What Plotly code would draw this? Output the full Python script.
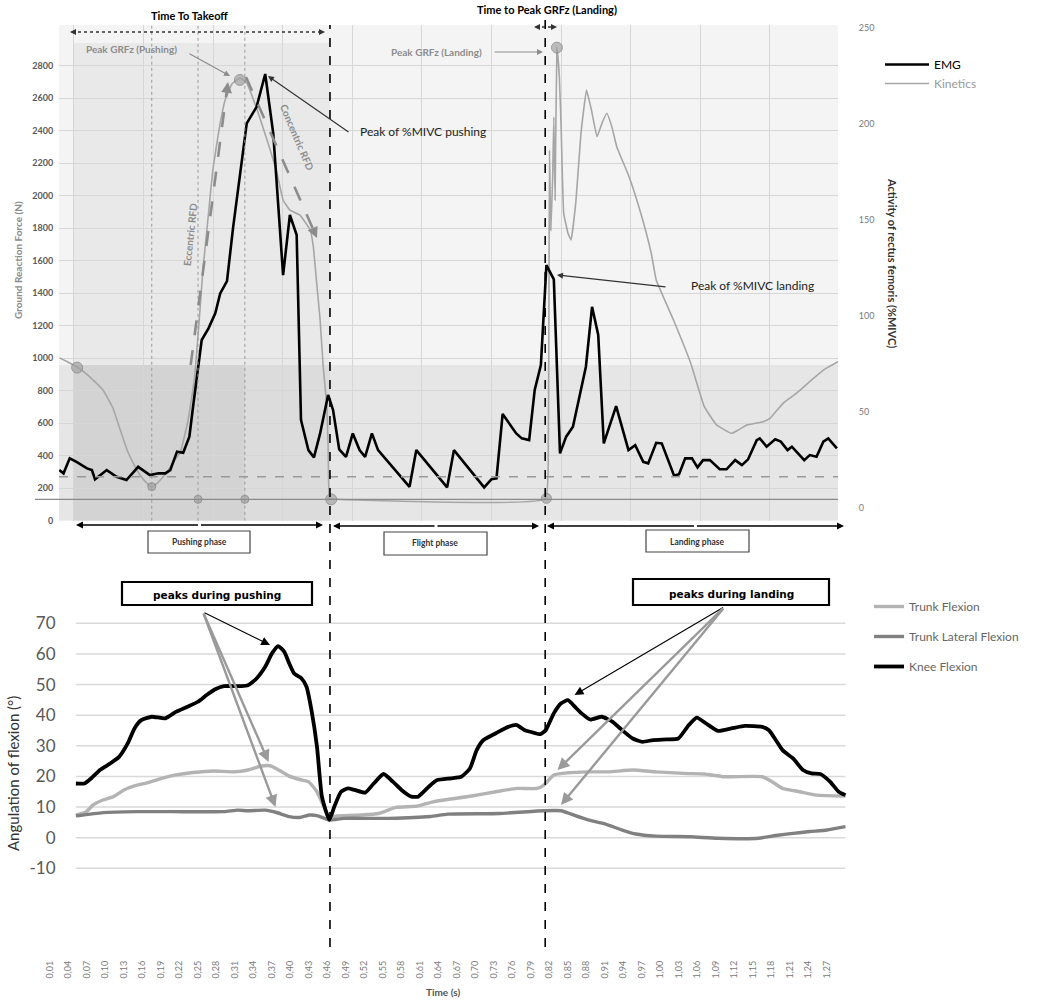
import plotly.graph_objects as go

W, H = 1052, 1001


def X(p):
    # pixel column -> paper x
    return p / W


def Y(p):
    # pixel row -> paper y
    return 1 - p / H


# --- top chart: vertical ground reaction force (N) ---
kin_t = [0.026, 0.054, 0.075, 0.096, 0.112, 0.124, 0.135, 0.145, 0.156, 0.167,
         0.175, 0.184, 0.200, 0.210, 0.221, 0.234, 0.244, 0.252, 0.258, 0.266,
         0.274, 0.284, 0.294, 0.305, 0.318, 0.329, 0.346, 0.362, 0.378, 0.388,
         0.399, 0.415, 0.432, 0.437, 0.442, 0.448, 0.453, 0.459, 0.461, 0.463,
         0.466, 0.813, 0.818, 0.820, 0.822, 0.825, 0.827, 0.829, 0.832, 0.836,
         0.839, 0.843, 0.850, 0.855, 0.863, 0.871, 0.880, 0.888, 0.897, 0.905,
         0.913, 0.921, 0.929, 0.949, 0.968, 0.985, 0.993, 1.021, 1.049, 1.071,
         1.091, 1.115, 1.126, 1.140, 1.166, 1.178, 1.199, 1.221, 1.245, 1.267,
         1.288]
kin_grf = [1001, 946, 884, 804, 694, 558, 435, 355, 282, 232,
           208, 232, 300, 362, 417, 620, 866, 1235, 1542, 1850,
           2157, 2403, 2588, 2686, 2723, 2692, 2526, 2342, 2139, 1973,
           1911, 1881, 1788, 1686, 1481, 1235, 948, 702, 456, 138,
           134, 134, 497, 2280, 1786, 2097, 2483, 1973, 2910, 2731,
           2397, 1891, 1768, 1727, 1973, 2383, 2649, 2526, 2362, 2445,
           2506, 2424, 2301, 2116, 1891, 1645, 1481, 1235, 969, 702,
           589, 538, 558, 589, 609, 632, 724, 786, 866, 934,
           978]

# --- top chart: rectus femoris activity (%MIVC) ---
emg_t = [0.025, 0.032, 0.042, 0.053, 0.070, 0.078, 0.083, 0.102, 0.118, 0.134,
         0.153, 0.172, 0.186, 0.197, 0.205, 0.216, 0.226, 0.236, 0.242, 0.248,
         0.256, 0.267, 0.278, 0.286, 0.297, 0.307, 0.318, 0.329, 0.345, 0.359,
         0.372, 0.380, 0.388, 0.399, 0.410, 0.417, 0.429, 0.438, 0.448, 0.461,
         0.469, 0.479, 0.490, 0.501, 0.512, 0.521, 0.532, 0.542, 0.593, 0.604,
         0.654, 0.665, 0.714, 0.726, 0.734, 0.744, 0.766, 0.775, 0.787, 0.796,
         0.806, 0.815, 0.827, 0.837, 0.847, 0.858, 0.869, 0.879, 0.889, 0.899,
         0.908, 0.928, 0.948, 0.959, 0.972, 0.980, 0.993, 1.002, 1.022, 1.030,
         1.040, 1.051, 1.060, 1.069, 1.080, 1.096, 1.107, 1.121, 1.132, 1.142,
         1.156, 1.161, 1.172, 1.186, 1.195, 1.206, 1.213, 1.221, 1.233, 1.242,
         1.253, 1.264, 1.272, 1.286]
emg_val = [19.6, 17.9, 25.7, 23.9, 20.5, 19.6, 14.8, 19.6, 16.1, 14.4,
           21.3, 17.0, 17.9, 17.9, 19.6, 29.2, 28.6, 37.0, 52.6, 68.2,
           87.3, 93.4, 101.2, 111.6, 118.0, 146.1, 174.1, 200.1, 208.7, 225.8,
           194.9, 160.2, 121.1, 152.4, 142.0, 45.7, 30.0, 26.2, 38.7, 58.7,
           50.9, 30.4, 26.5, 38.7, 30.0, 26.5, 38.7, 30.0, 10.9, 30.0,
           10.6, 30.0, 10.6, 14.9, 15.3, 48.8, 38.7, 36.1, 35.2, 61.3,
           74.3, 126.3, 118.9, 28.3, 37.0, 42.2, 57.8, 73.4, 104.6, 89.9,
           33.5, 52.9, 30.0, 32.6, 23.9, 23.1, 33.8, 33.5, 16.7, 17.5,
           25.7, 25.7, 21.0, 24.8, 24.8, 20.0, 20.0, 24.8, 22.2, 25.2,
           35.2, 36.1, 31.8, 35.6, 34.4, 30.0, 31.8, 29.2, 24.8, 27.4,
           26.5, 34.4, 36.1, 30.9]

# event points marked on the force curve
event_t = [0.054, 0.175, 0.250, 0.326, 0.466, 0.815, 0.318, 0.832]
event_grf = [942, 210, 132, 132, 132, 138, 2711, 2910]
event_size = [11, 8, 8, 8, 11, 10, 11, 11]

takeoff_t = 0.464
landing_t = 0.813
phase_marks_t = [0.175, 0.250, 0.326]
threshold_grf = 271
baseline_grf = 132
grf_ticks = [0, 200, 400, 600, 800, 1000, 1200, 1400, 1600, 1800, 2000, 2200, 2400, 2600, 2800]
emg_ticks = [0, 50, 100, 150, 200, 250]

# --- bottom chart: joint angles (deg) ---
knee_t = [0.052, 0.066, 0.077, 0.091, 0.108, 0.122, 0.136, 0.147, 0.158, 0.175,
          0.197, 0.214, 0.233, 0.250, 0.264, 0.278, 0.292, 0.320, 0.331, 0.345,
          0.359, 0.370, 0.380, 0.390, 0.398, 0.406, 0.418, 0.426, 0.434, 0.443,
          0.451, 0.463, 0.471, 0.482, 0.493, 0.504, 0.521, 0.535, 0.551, 0.566,
          0.580, 0.596, 0.607, 0.624, 0.638, 0.660, 0.677, 0.691, 0.702, 0.713,
          0.733, 0.753, 0.767, 0.780, 0.789, 0.805, 0.814, 0.827, 0.839, 0.850,
          0.861, 0.872, 0.886, 0.905, 0.922, 0.938, 0.955, 0.971, 0.988, 1.010,
          1.029, 1.046, 1.059, 1.074, 1.093, 1.115, 1.137, 1.165, 1.176, 1.187,
          1.198, 1.215, 1.231, 1.245, 1.259, 1.275, 1.289, 1.300]
knee_val = [17.7, 17.7, 19.4, 22.1, 24.3, 26.4, 30.8, 35.7, 38.4, 39.5,
            39.0, 41.1, 42.8, 44.4, 46.6, 48.5, 49.5, 49.5, 49.8, 52.0,
            55.8, 60.2, 62.6, 60.7, 56.9, 53.6, 52.0, 49.3, 41.7, 29.7,
            13.4, 5.8, 10.1, 15.0, 16.1, 15.6, 14.7, 17.7, 20.8, 18.3,
            15.6, 13.4, 13.4, 16.6, 18.8, 19.4, 19.9, 22.6, 28.6, 31.9,
            34.1, 36.2, 36.8, 35.1, 34.6, 33.8, 35.1, 40.6, 43.9, 44.9,
            42.8, 40.6, 38.6, 39.5, 37.9, 35.1, 32.4, 31.3, 31.9, 32.1,
            32.4, 36.8, 39.2, 37.3, 34.9, 35.7, 36.5, 36.2, 35.1, 31.9,
            28.6, 25.9, 22.1, 21.0, 20.8, 18.3, 15.0, 13.9]

trunk_t = [0.052, 0.069, 0.080, 0.096, 0.113, 0.130, 0.147, 0.169, 0.191, 0.214,
           0.242, 0.275, 0.309, 0.331, 0.353, 0.367, 0.381, 0.398, 0.415, 0.429,
           0.443, 0.463, 0.476, 0.515, 0.543, 0.571, 0.605, 0.633, 0.655, 0.694,
           0.733, 0.767, 0.800, 0.811, 0.827, 0.850, 0.883, 0.916, 0.955, 0.993,
           1.038, 1.071, 1.104, 1.165, 1.181, 1.198, 1.226, 1.253, 1.300]
trunk_val = [7.4, 8.5, 10.7, 12.3, 13.4, 15.6, 16.9, 18.0, 19.4, 20.5,
             21.3, 21.8, 21.5, 22.1, 23.4, 23.5, 22.1, 20.1, 19.0, 18.3,
             15.0, 6.9, 7.1, 7.4, 7.9, 9.9, 10.3, 11.8, 12.5, 13.6,
             15.0, 16.1, 16.1, 17.2, 20.5, 21.2, 21.5, 21.5, 22.1, 21.5,
             21.0, 20.8, 19.9, 19.9, 18.3, 16.1, 15.0, 13.9, 13.6]

lateral_t = [0.052, 0.096, 0.152, 0.208, 0.292, 0.314, 0.331, 0.359, 0.376, 0.398,
             0.415, 0.431, 0.443, 0.463, 0.487, 0.560, 0.627, 0.655, 0.739, 0.811,
             0.839, 0.855, 0.883, 0.910, 0.938, 0.960, 0.993, 1.049, 1.093, 1.159,
             1.187, 1.215, 1.242, 1.270, 1.300]
lateral_val = [7.1, 8.2, 8.5, 8.5, 8.5, 9.0, 8.8, 9.0, 8.3, 6.9,
               6.6, 7.4, 7.2, 5.8, 6.3, 6.3, 6.9, 7.7, 7.9, 8.8,
               8.8, 7.7, 5.8, 4.5, 2.5, 1.2, 0.5, 0.3, -0.2, -0.2,
               0.7, 1.4, 2.0, 2.5, 3.6]

angle_ticks = [-10, 0, 10, 20, 30, 40, 50, 60, 70]
angle_labels = ["-10", "0", "10", "20", "30", "40", "50", "60", "70"]
time_labels = ["0,01", "0,04", "0,07", "0,10", "0,13", "0,16", "0,19", "0,22", "0,25",
               "0,28", "0,31", "0,34", "0,37", "0,40", "0,43", "0,46", "0,49", "0,52",
               "0,55", "0,58", "0,61", "0,64", "0,67", "0,70", "0,73", "0,76", "0,79",
               "0,82", "0,85", "0,88", "0,91", "0,94", "0,97", "1,00", "1,03", "1,06",
               "1,09", "1,12", "1,15", "1,18", "1,21", "1,24", "1,27"]
time_vals = [float(s.replace(",", ".")) for s in time_labels]

GRID = "#d6d6d6"
GRAYTXT = "#8c8c8c"
FONT = "Lato"

fig = go.Figure()

# top chart traces
fig.add_trace(go.Scatter(
    x=kin_t, y=kin_grf, mode="lines", name="<span style='color:#9a9a9a'>Kinetics</span>",
    line=dict(color="#a6a6a6", width=1.6, shape="spline", smoothing=0.3),
    legend="legend", legendrank=2, xaxis="x", yaxis="y"))
fig.add_trace(go.Scatter(
    x=event_t, y=event_grf, mode="markers", showlegend=False, cliponaxis=False,
    marker=dict(size=event_size, color="#a3a3a3", line=dict(color="#7a7a7a", width=1)),
    xaxis="x", yaxis="y"))
fig.add_trace(go.Scatter(
    x=emg_t, y=emg_val, mode="lines", name="EMG",
    line=dict(color="black", width=2.6),
    legend="legend", legendrank=1, xaxis="x", yaxis="y2"))

# bottom chart traces
for name, tt, vv, col in [("Trunk Flexion", trunk_t, trunk_val, "#b3b3b3"),
                          ("Trunk Lateral Flexion", lateral_t, lateral_val, "#808080"),
                          ("Knee Flexion", knee_t, knee_val, "#000000")]:
    fig.add_trace(go.Scatter(
        x=tt, y=vv, mode="lines", name=name, legend="legend2", legendgroup=name,
        line=dict(color=col, width=3.8 if col == "#000000" else 3.4, shape="spline", smoothing=0.5),
        xaxis="x2", yaxis="y3"))

shapes = []
# shaded backgrounds of the force plot
shapes.append(dict(type="rect", xref="x domain", yref="y domain", x0=0, x1=1, y0=0, y1=1,
                   fillcolor="#f4f4f4", line_width=0, layer="below"))
shapes.append(dict(type="rect", xref="x", yref="y", x0=0.0489, x1=takeoff_t, y0=958, y1=2938,
                   fillcolor="#e9e9e9", line_width=0, layer="below"))
shapes.append(dict(type="rect", xref="x domain", yref="y", x0=0, x1=1, y0=0, y1=958,
                   fillcolor="#e6e6e6", line_width=0, layer="below"))
shapes.append(dict(type="rect", xref="x", yref="y", x0=phase_marks_t[2], x1=takeoff_t, y0=0, y1=958,
                   fillcolor="#dcdcdc", line_width=0, layer="below"))
shapes.append(dict(type="rect", xref="x", yref="y", x0=0.0489, x1=phase_marks_t[2], y0=0, y1=958,
                   fillcolor="#d3d3d3", line_width=0, layer="below"))
for t in phase_marks_t:
    shapes.append(dict(type="line", xref="x", yref="y", x0=t, x1=t, y0=0, y1=3049,
                       line=dict(color="#9a9a9a", width=1, dash="dot")))
shapes.append(dict(type="line", xref="x domain", yref="y", x0=0, x1=1,
                   y0=threshold_grf, y1=threshold_grf,
                   line=dict(color="#9a9a9a", width=1.5, dash="dash")))
shapes.append(dict(type="line", xref="paper", yref="y", x0=X(35), x1=X(838),
                   y0=baseline_grf, y1=baseline_grf, line=dict(color="#8a8a8a", width=1.2)))
# takeoff / landing boundaries running through both charts
shapes.append(dict(type="line", xref="x", yref="paper", x0=takeoff_t, x1=takeoff_t,
                   y0=Y(947), y1=Y(25), line=dict(color="black", width=1.6, dash="dash")))
shapes.append(dict(type="line", xref="x", yref="paper", x0=landing_t, x1=landing_t,
                   y0=Y(947), y1=Y(18), line=dict(color="black", width=1.6, dash="dash")))
# time-to-takeoff and time-to-peak dotted spans
shapes.append(dict(type="line", xref="paper", yref="paper", x0=X(72), x1=X(323),
                   y0=Y(32), y1=Y(32), line=dict(color="#333", width=1.6, dash="dot")))
shapes.append(dict(type="line", xref="paper", yref="paper", x0=X(536), x1=X(555),
                   y0=Y(27), y1=Y(27), line=dict(color="#333", width=1.4, dash="dot")))
# RFD dashed arrows
shapes.append(dict(type="line", xref="paper", yref="paper", x0=X(190.7), x1=X(226.9),
                   y0=Y(365), y1=Y(90), line=dict(color=GRAYTXT, width=2.6, dash="longdash")))
shapes.append(dict(type="line", xref="paper", yref="paper", x0=X(246), x1=X(313.5),
                   y0=Y(77), y1=Y(230), line=dict(color=GRAYTXT, width=2.6, dash="longdash")))
# phase boxes
for x0, x1, y0, y1 in [(148, 250, 531, 553), (384, 487, 532, 555), (646, 749, 530, 552)]:
    shapes.append(dict(type="rect", xref="paper", yref="paper", x0=X(x0), x1=X(x1),
                       y0=Y(y1), y1=Y(y0), line=dict(color="#444", width=1.2)))
# "peaks" boxes
for x0, x1, y0, y1 in [(122, 312, 582, 605), (633, 829, 579, 605)]:
    shapes.append(dict(type="rect", xref="paper", yref="paper", x0=X(x0), x1=X(x1),
                       y0=Y(y1), y1=Y(y0), line=dict(color="black", width=2.2)))
# horizontal grid of the angle chart
for v in angle_ticks:
    shapes.append(dict(type="line", xref="x2", yref="y3", x0=0.052, x1=1.300, y0=v, y1=v,
                       line=dict(color="#d9d9d9", width=1.5), layer="below"))

ann = []


def text(x, y, s, size, color, bold=False, angle=0, family=FONT):
    ann.append(dict(x=X(x), y=Y(y), xref="paper", yref="paper", text=s, showarrow=False,
                    textangle=angle, xanchor="center", yanchor="middle",
                    font=dict(size=size, color=color, family=family,
                              weight="bold" if bold else "normal")))


def arrow(x, y, ax, ay, color, width=1.2, size=1.0, head=2):
    ann.append(dict(x=X(x), y=Y(y), xref="paper", yref="paper", ax=ax, ay=ay, text="",
                    showarrow=True, arrowhead=head, arrowsize=size, arrowwidth=width,
                    arrowcolor=color, standoff=0, startstandoff=0))


text(189, 15, "Time To Takeoff", 11, "black", bold=True)
text(547, 9, "Time to Peak GRFz (Landing)", 11, "black", bold=True)
text(131, 49, "Peak GRFz (Pushing)", 10, GRAYTXT, bold=True)
text(436, 52, "Peak GRFz (Landing)", 10, GRAYTXT, bold=True)
text(423, 132, "Peak of %MIVC pushing", 12, "#222")
text(752, 285, "Peak of %MIVC landing", 12, "#222")
text(190, 235, "Eccentric RFD", 10, GRAYTXT, bold=True, angle=-84)
text(297, 137, "Concentric RFD", 10, GRAYTXT, bold=True, angle=67)
text(18, 260, "Ground Reaction Force (N)", 10, GRAYTXT, bold=True, angle=-90)
text(893, 263, "Activity of rectus femoris (%MIVC)", 11, "#333", bold=True, angle=90)
text(199, 542, "Pushing phase", 8.5, "#333", bold=True)
text(435.5, 543, "Flight phase", 8.5, "#333", bold=True)
text(697.5, 541.5, "Landing phase", 8.5, "#333", bold=True)
text(217, 595, "peaks during pushing", 10.5, "black", bold=True, family="DejaVu Sans")
text(731, 594, "peaks during landing", 10.5, "black", bold=True, family="DejaVu Sans")
text(13, 774, "Angulation of flexion (°)", 15, "#333", angle=-90)
text(443, 992, "Time (s)", 10, "#555", bold=True)

# top chart arrows
arrow(230, 76, -42, -23, GRAYTXT)
arrow(543, 52, -50, 0, GRAYTXT)
arrow(268, 76, 82, 57, "#333")
arrow(557, 275, 110, 12, "#333")
arrow(228, 82, -1.3, 10, GRAYTXT, width=2.4, size=0.9)
arrow(317, 238, -4, -9, GRAYTXT, width=2.4, size=0.9)
arrow(70, 32, 7, 0, "#333")
arrow(325, 32, -7, 0, "#333")
arrow(534, 27, 6, 0, "#333")
arrow(557, 27, -6, 0, "#333")
# phase spans
for a, b, yy in [(76, 323, 525), (333, 539, 526), (547, 844, 526)]:
    half = (b - a) / 2
    arrow(a, yy, half, 0, "black", width=1.4)
    arrow(b, yy, -half, 0, "black", width=1.4)
# bottom chart arrows
arrow(270, 645, -67, -33, "black", width=1.1, size=1.6)
arrow(268.6, 762, -65.6, -150, "#9a9a9a", width=2.4, size=1.0)
arrow(275.5, 807, -72.5, -195, "#9a9a9a", width=2.4, size=1.0)
arrow(574.6, 695, 150, -88.3, "black", width=1.1, size=1.6)
arrow(557.5, 770, 167, -163, "#9a9a9a", width=2.4, size=1.0)
arrow(561, 805, 163.6, -198, "#9a9a9a", width=2.4, size=1.0)

fig.update_layout(
    template="none",
    width=W, height=H,
    margin=dict(l=0, r=0, t=0, b=0),
    paper_bgcolor="white", plot_bgcolor="rgba(0,0,0,0)",
    font=dict(family=FONT, color="#444"),
    showlegend=True,
    xaxis=dict(domain=[X(59), X(838)], range=[0.0246, 1.2878], anchor="y",
               showgrid=True, gridcolor=GRID, gridwidth=1, tick0=0.0489, dtick=0.11286,
               showticklabels=False, ticks="", zeroline=False, showline=False, automargin=False),
    yaxis=dict(domain=[Y(520.8), Y(25)], range=[0, 3049], anchor="x",
               tickvals=grf_ticks, showgrid=True, gridcolor=GRID, gridwidth=1,
               zeroline=False, showline=False, ticks="outside", ticklen=3,
               tickcolor="rgba(0,0,0,0)",
               tickfont=dict(size=9, color="#595959", weight="bold"), automargin=False),
    yaxis2=dict(overlaying="y", side="right", range=[-6.8, 251.3], anchor="x",
                tickvals=emg_ticks, showgrid=False, zeroline=False, showline=False,
                ticks="outside", ticklen=18, tickcolor="rgba(0,0,0,0)",
                tickfont=dict(size=9, color="#7a7a7a"), automargin=False),
    xaxis2=dict(domain=[X(40), X(860)], range=[-0.0062, 1.3236], anchor="y3",
                tickvals=time_vals, ticktext=time_labels, tickangle=-90,
                tickfont=dict(size=9, color="#7a7a7a"), showgrid=False, zeroline=False,
                showline=False, ticks="", automargin=False),
    yaxis3=dict(domain=[Y(958), Y(575)], range=[-39.3, 85.8], anchor="free", position=X(62),
                tickvals=angle_ticks, ticktext=angle_labels, showgrid=False, zeroline=False,
                showline=False, ticks="outside", ticklen=3, tickcolor="rgba(0,0,0,0)",
                tickfont=dict(size=17, color="#595959"), automargin=False),
    legend=dict(x=X(880), y=Y(50), xanchor="left", yanchor="top", bgcolor="rgba(0,0,0,0)",
                font=dict(size=12, color="black"), itemwidth=44, traceorder="normal"),
    legend2=dict(x=X(869), y=Y(592), xanchor="left", yanchor="top", bgcolor="rgba(0,0,0,0)",
                 font=dict(size=12, color="#666"), tracegroupgap=11, traceorder="grouped"),
    shapes=shapes,
    annotations=ann,
)

# drop the default page margin so the figure sits at the window's top-left corner
fig.write_html("out.html", config={"displayModeBar": False},
               post_script="document.body.style.margin='0';")
